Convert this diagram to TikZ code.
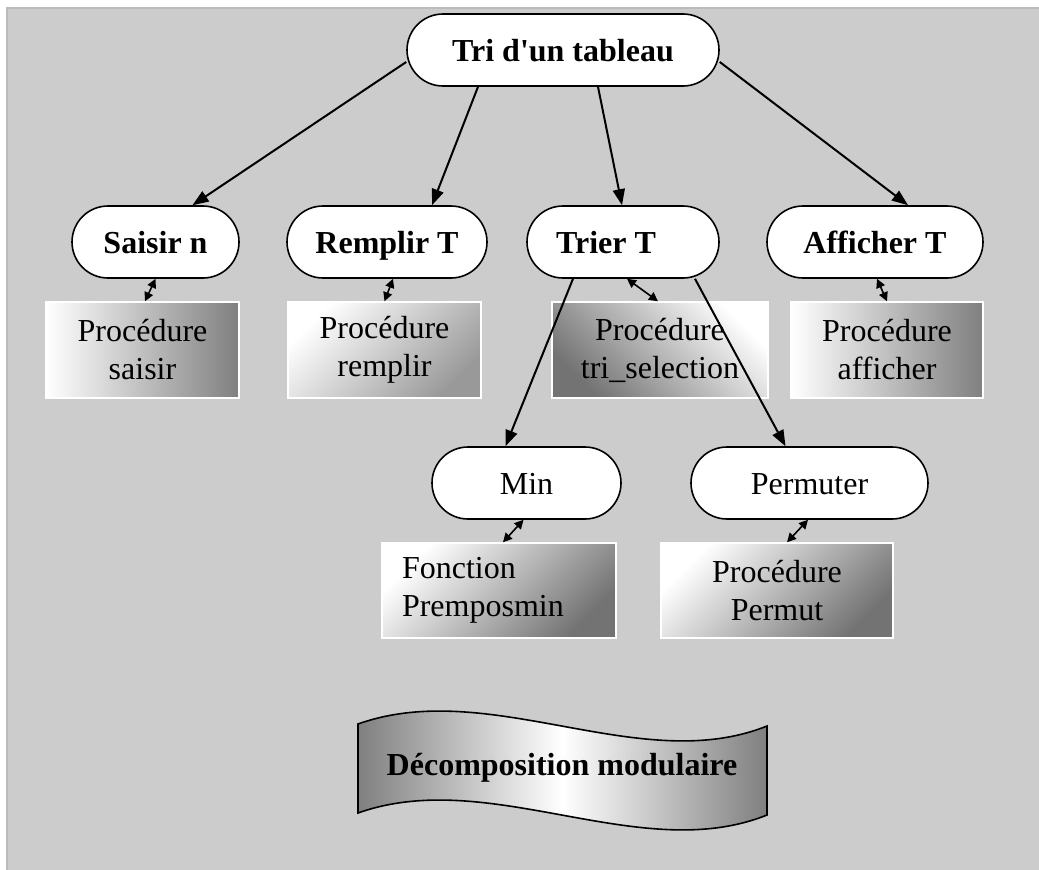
\documentclass[tikz,border=0pt]{standalone}
\usepackage{fontspec}
\setmainfont{Liberation Serif}[Ligatures=TeXOff]
\usetikzlibrary{arrows.meta}
\definecolor{fond}{HTML}{CCCCCC}
\definecolor{cadre}{HTML}{BBBBBB}
\tikzset{
  module/.style={draw, fill=white, line width=1.6pt, rounded corners=36pt,
    minimum height=72pt, inner sep=0pt, text height=24pt, text depth=2pt,
    font=\fontsize{32}{37}\selectfont\bfseries},
  sousmodule/.style={module, font=\fontsize{32}{37}\selectfont},
  procbox/.style={draw=white, line width=1.5pt, minimum height=96pt, inner sep=0pt,
    align=center, font=\fontsize{32}{38}\selectfont},
  fleche/.style={line width=2pt, -{Triangle[length=16pt,width=12pt]}},
  lien/.style={line width=1.6pt, {Triangle[length=9pt,width=9pt]}-{Triangle[length=9pt,width=9pt]}},
}
\begin{document}
\begin{tikzpicture}[x=1pt,y=-1pt]
      \useasboundingbox (0,0) rectangle (1039,870);
      \fill[white] (0,0) rectangle (1039,870);
      \fill[fond] (7,8) rectangle (1039,870);
      \draw[cadre, line width=2pt] (1039,8) -- (7,8) -- (7,870);
      % modules
      \path
        (563,50) node[module, minimum width=312pt] (tri){Tri d'un tableau}
        (155.5,242) node[module, minimum width=167pt] (saisir){Saisir n}
        (387,242) node[module, minimum width=200pt] (remplir){Remplir T}
        (623,242) node[module, minimum width=192pt] (trier){Trier T\hspace*{34pt}}
        (875,242) node[module, minimum width=216pt] (afficher){Afficher T}
        (526.5,483) node[sousmodule, minimum width=189pt] (min){Min}
        (809.5,483) node[sousmodule, minimum width=237pt] (permuter){Permuter};
      % sous-programmes
      \path
        (142.5,350) node[procbox, minimum width=193pt, left color=white, right color=black!50] (psaisir){Procédure\\saisir}
        (384.5,350) node[procbox, minimum width=193pt, top color=white, bottom color=black!40, shading angle=45] (premplir){Procédure\\remplir}
        (660,350) node[procbox, minimum width=216pt, top color=white, bottom color=black!55, shading angle=-45] (ptri){Procédure\\tri\_selection}
        (887,350) node[procbox, minimum width=192pt, left color=white, right color=black!50] (pafficher){Procédure\\afficher}
        (499,590.5) node[procbox, minimum width=234pt, minimum height=95pt, align=left, text width=194pt, inner xsep=20pt, top color=white, bottom color=black!55, shading angle=45] (fmin){Fonction\\Premposmin}
        (777,590.5) node[procbox, minimum width=232pt, minimum height=95pt, top color=white, bottom color=black!55, shading angle=45] (ppermut){Procédure\\Permut};
      \begin{scope}[fleche]
        \draw ([yshift=-12pt]tri.west) to ([xshift=37pt]saisir.north);
        \draw ([xshift=-85pt]tri.south) to ([xshift=45pt]remplir.north);
        \draw ([xshift=35pt]tri.south) to ([xshift=-1pt]trier.north);
        \draw ([yshift=-12pt]tri.east) to ([xshift=33pt]afficher.north);
        \draw ([xshift=-50pt]trier.south) to ([xshift=-21pt]min.north);
        \draw ([xshift=72pt]trier.south) to ([xshift=-24pt]permuter.north);
      \end{scope}
      \begin{scope}[lien]
        \draw (saisir.south) to ([xshift=2.5pt]psaisir.north);
        \draw ([xshift=6pt]remplir.south) to (premplir.north);
        \draw ([xshift=4pt]trier.south) to ([xshift=-2pt]ptri.north);
        \draw ([xshift=2pt]afficher.south) to (pafficher.north);
        \draw ([xshift=-3pt]min.south) to ([xshift=4pt]fmin.north);
        \draw ([xshift=-1.5pt]permuter.south) to ([xshift=10pt]ppermut.north);
      \end{scope}
      % bandeau
      \shadedraw[line width=1.6pt, left color=black!50, right color=black!50, middle color=white]
        (358,724) .. controls (490,677) and (640,777) .. (767,726)
        -- (767,815) .. controls (640,866) and (490,766) .. (358,813) -- cycle;
      \node[font=\fontsize{32}{37}\selectfont\bfseries] (bandeau) at (562,768) {Décomposition modulaire};
    \end{tikzpicture}
\end{document}
